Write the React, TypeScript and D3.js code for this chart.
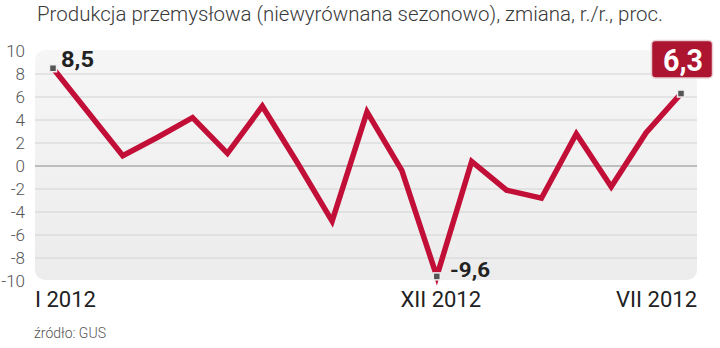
import React from "react";
import * as d3 from "d3";

const months = ["I 2012","II 2012","III 2012","IV 2012","V 2012","VI 2012","VII 2012","VIII 2012","IX 2012","X 2012","XI 2012","XII 2012","I 2013","II 2013","III 2013","IV 2013","V 2013","VI 2013","VII 2013"];
const values = [8.5, 4.7, 0.9, 2.5, 4.2, 1.1, 5.2, 0.3, -4.8, 4.7, -0.4, -9.6, 0.4, -2.1, -2.8, 2.8, -1.8, 2.9, 6.3];
const yTicks = [10, 8, 6, 4, 2, 0, -2, -4, -6, -8, -10];
const gridValues = [8, 6, 4, 2, -2, -4, -6, -8];
const xLabels = [
  { index: 0, text: "I 2012", anchor: "start" },
  { index: 11, text: "XII 2012", anchor: "middle" },
  { index: 18, text: "VII 2012", anchor: "end" },
];
const title = "Produkcja przemysłowa (niewyrównana sezonowo), zmiana, r./r., proc.";
const source = "źródło: GUS";

export default function App() {
  const W = 720, H = 348;
  const x = d3.scalePoint<number>().domain(d3.range(values.length)).range([53, 681]);
  const y = d3.scaleLinear().domain([-10, 10]).range([281, 51]);
  const line = d3.line<number>().x((_, i) => x(i)!).y((d) => y(d));
  const red = "#c20f38";
  const panelL = 35, panelR = 697, panelT = 50, panelB = 280;
  const firstI = 0, minI = 11, lastI = values.length - 1;
  const fmt = (v: number) => v.toFixed(1).replace(".", ",");
  const marker = (i: number) => (
    <rect x={x(i)! - 3.5} y={y(values[i]) - 3.5} width={7} height={7} fill="#555" stroke="#eee" strokeWidth={1.5} />
  );
  return (
    <svg width={W} height={H} style={{ position: "absolute", left: 0, top: 0, background: "#fff" }}>
      <defs>
        <linearGradient id="bg" x1="0" y1="0" x2="0" y2="1">
          <stop offset="0" stopColor="#f6f6f6" />
          <stop offset="1" stopColor="#ececec" />
        </linearGradient>
      </defs>
      <text x={37} y={21} fontFamily="Roboto" fontWeight={300} fontSize={21} fill="#3a3a3a" textLength={626} lengthAdjust="spacingAndGlyphs">{title}</text>
      <rect x={panelL} y={panelT} width={panelR - panelL} height={panelB - panelT} rx={10} fill="url(#bg)" />
      {gridValues.map((v) => (
        <line key={v} x1={panelL} x2={panelR} y1={y(v)} y2={y(v)} stroke="#d2d2d2" strokeWidth={1} />
      ))}
      <line x1={panelL} x2={panelR} y1={y(0)} y2={y(0)} stroke="#8a8a8a" strokeWidth={1} />
      {yTicks.map((v) => (
        <text key={v} x={25} y={y(v)} dy="0.35em" textAnchor="end" fontFamily="Roboto" fontWeight={300} fontSize={17} fill="#555">{v}</text>
      ))}
      <path d={line(values)!} fill="none" stroke={red} strokeWidth={5.5} strokeLinejoin="miter" strokeMiterlimit={4} />
      {marker(firstI)}
      {marker(minI)}
      {marker(lastI)}
      <text x={61} y={67} fontFamily="Roboto" fontWeight={700} fontSize={22} fill="#222" textLength={33} lengthAdjust="spacingAndGlyphs">{fmt(values[firstI])}</text>
      <text x={450} y={277} fontFamily="Roboto" fontWeight={700} fontSize={21} fill="#222" textLength={40} lengthAdjust="spacingAndGlyphs">{fmt(values[minI])}</text>
      <rect x={651.5} y={40.5} width={61} height={37.5} rx={4} fill="#ad1430" stroke="#e8d0d4" strokeWidth={1.5} />
      <text x={663} y={71} fontFamily="Roboto" fontWeight={700} fontSize={31} fill="#fff" textLength={40} lengthAdjust="spacingAndGlyphs">{fmt(values[lastI])}</text>
      {xLabels.map((l) => (
        <text key={l.text} x={l.anchor === "start" ? 35 : l.anchor === "end" ? 697 : x(l.index)! + 4} y={307} textAnchor={l.anchor} fontFamily="Roboto" fontWeight={400} fontSize={22} fill="#222">{l.text}</text>
      ))}
      <text x={34} y={338} fontFamily="Roboto" fontWeight={300} fontSize={14} fill="#555">{source}</text>
    </svg>
  );
}
